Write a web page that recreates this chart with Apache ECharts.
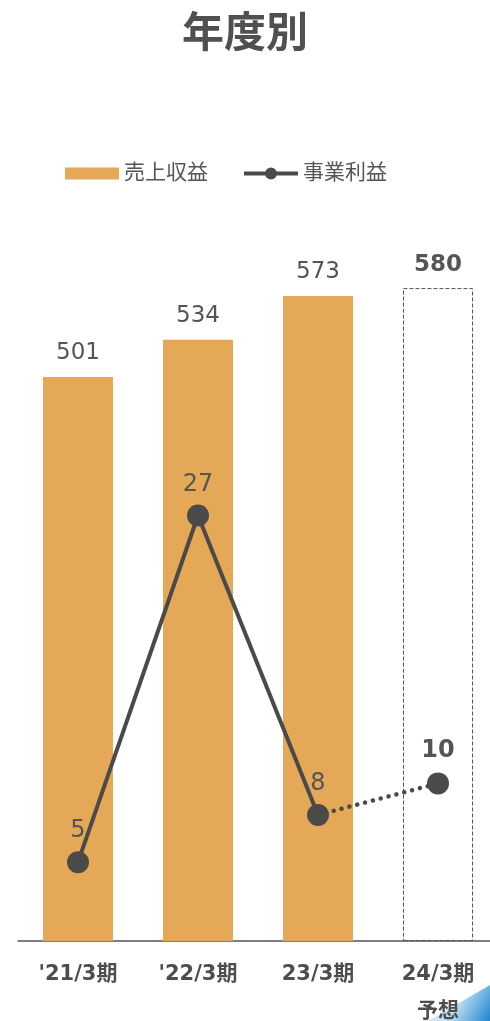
<!DOCTYPE html>
<html>
<head>
<meta charset="utf-8">
<script src="https://cdn.jsdelivr.net/npm/echarts@6/dist/echarts.min.js"></script>
<style>
  html, body { margin: 0; padding: 0; background: #fff; }
  #chart { width: 490px; height: 1021px; }
</style>
</head>
<body>
<div id="chart"></div>
<script>
// Fiscal years, last one is a forecast
const categories = ["'21/3期", "'22/3期", "23/3期", "24/3期\n予想"];
const revenue = [501, 534, 573, 580];      // 売上収益
const operatingProfit = [5, 27, 8, 10];    // 事業利益
const forecastIndex = 3;

const FONT = "'DejaVu Sans', 'Noto Sans CJK JP', sans-serif";
const TEXT = '#555555';
const BAR = '#E5A857';
const LINE = '#4A4A4A';

const barData = revenue.map((v, i) => i === forecastIndex ? {
  value: v,
  itemStyle: { color: 'rgba(0,0,0,0)', borderColor: '#555', borderWidth: 1, borderType: [4, 2] },
  label: { fontWeight: 'bold' }
} : v);

// solid segment covers actual years, dotted segment runs into the forecast
const solidData = operatingProfit.map((v, i) => i < forecastIndex ? v : null);
const dottedData = operatingProfit.map((v, i) => {
  if (i === forecastIndex) return { value: v, label: { show: true, fontWeight: 'bold' }, symbolSize: 22 };
  if (i === forecastIndex - 1) return { value: v, symbolSize: 0 };
  return null;
});

// legend marker: thick line with a dot in the middle
const lineLegendIcon = 'path://M0,4 L54,4 L54,8 L0,8 Z M21,6 a6,6 0 1,1 12,0 a6,6 0 1,1 -12,0 Z';

const chart = echarts.init(document.getElementById('chart'));
chart.setOption({
  animation: false,
  textStyle: { fontFamily: FONT },
  title: {
    text: '年度別',
    left: 'center',
    top: 10,
    textStyle: { fontSize: 42, fontWeight: 'bold', color: '#505050', fontFamily: FONT }
  },
  legend: {
    data: [
      { name: '売上収益', icon: 'rect', itemStyle: { color: BAR }, itemWidth: 52 },
      { name: '事業利益', icon: lineLegendIcon, itemStyle: { color: LINE } }
    ],
    top: 163,
    left: 65,
    padding: 0,
    itemGap: 36,
    itemWidth: 54,
    itemHeight: 12,
    textStyle: { fontSize: 21, color: TEXT, fontFamily: FONT }
  },
  grid: { left: 18, width: 480, top: 153, bottom: 80, outerBoundsMode: 'none' },
  xAxis: {
    type: 'category',
    data: categories,
    axisTick: { show: false },
    axisLine: { lineStyle: { color: '#555', width: 1.5 } },
    axisLabel: {
      margin: 15,
      fontSize: 21,
      fontWeight: 'bold',
      color: '#4D4D4D',
      lineHeight: 37,
      fontFamily: FONT
    }
  },
  yAxis: [
    { type: 'value', min: 0, max: 700, show: false, splitLine: { show: false } },
    { type: 'value', min: 0, max: 50, show: false, splitLine: { show: false } }
  ],
  series: [
    {
      name: '売上収益',
      type: 'bar',
      data: barData,
      barWidth: 70,
      itemStyle: { color: BAR },
      label: { show: true, position: 'top', distance: 12, fontSize: 23, color: TEXT, fontFamily: FONT }
    },
    {
      name: '事業利益',
      type: 'line',
      yAxisIndex: 1,
      data: solidData,
      symbol: 'circle',
      symbolSize: 22,
      itemStyle: { color: LINE },
      lineStyle: { color: LINE, width: 4 },
      label: { show: true, position: 'top', distance: 8, fontSize: 24, color: TEXT, fontFamily: FONT },
      z: 5
    },
    {
      name: '事業利益予想',
      type: 'line',
      yAxisIndex: 1,
      data: dottedData,
      symbol: 'circle',
      itemStyle: { color: LINE },
      lineStyle: { color: LINE, width: 4.5, type: [0.1, 8], cap: 'round' },
      label: { show: false, position: 'top', distance: 10, fontSize: 24, color: TEXT, fontFamily: FONT },
      z: 4
    }
  ],
  graphic: [
    {
      type: 'polygon',
      z: -1,
      shape: { points: [[428, 1021], [490, 985], [490, 1021]] },
      style: {
        fill: new echarts.graphic.LinearGradient(0, 0, 1, 1, [
          { offset: 0, color: '#F2F8FC' },
          { offset: 0.5, color: '#B9DCF1' },
          { offset: 1, color: '#1E86CF' }
        ])
      }
    }
  ]
});
</script>
</body>
</html>
